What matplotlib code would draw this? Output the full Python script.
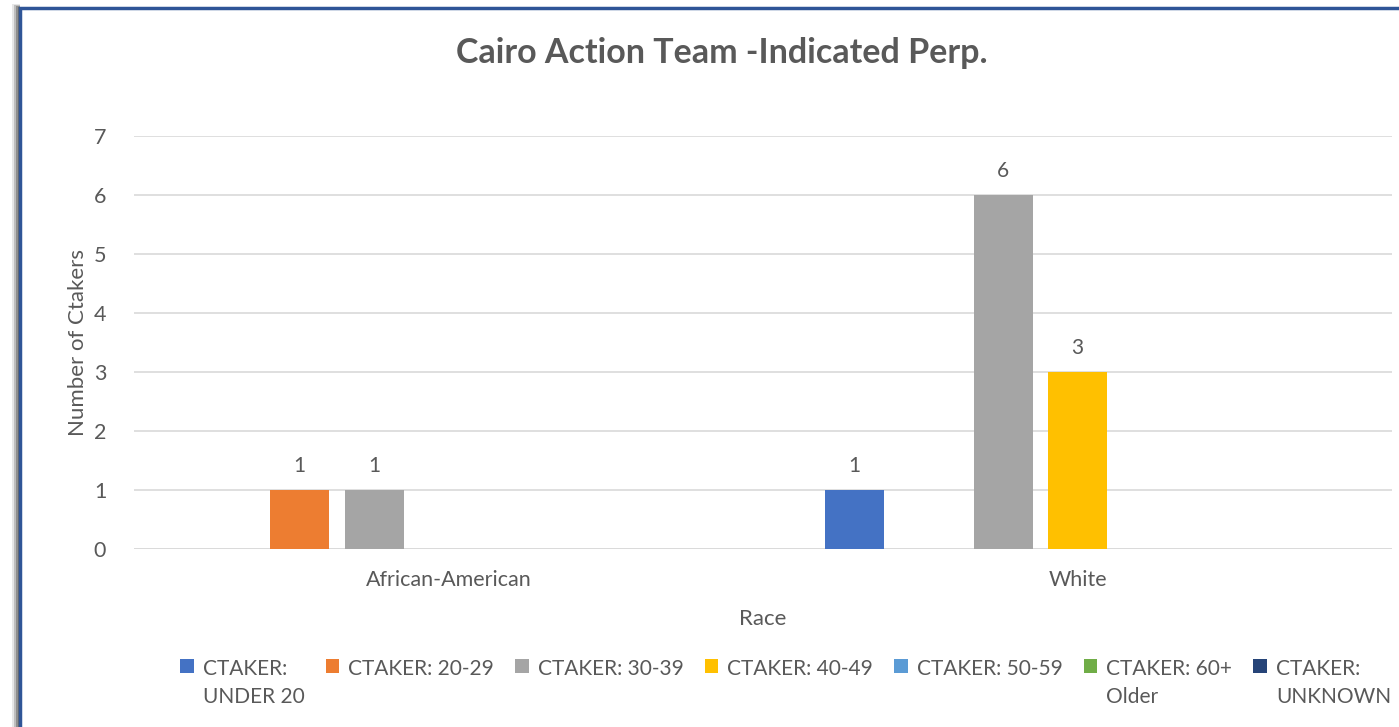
import numpy as np
import matplotlib.pyplot as plt
from matplotlib.patches import Rectangle

# data
races = ["African-American", "White"]
groups = ["CTAKER:\nUNDER 20", "CTAKER: 20-29", "CTAKER: 30-39", "CTAKER: 40-49",
          "CTAKER: 50-59", "CTAKER: 60+\nOlder", "CTAKER:\nUNKNOWN"]
counts = {
    "CTAKER:\nUNDER 20": [0, 1],
    "CTAKER: 20-29": [1, 0],
    "CTAKER: 30-39": [1, 6],
    "CTAKER: 40-49": [0, 3],
    "CTAKER: 50-59": [0, 0],
    "CTAKER: 60+\nOlder": [0, 0],
    "CTAKER:\nUNKNOWN": [0, 0],
}
colors = ["#4472C4", "#ED7D31", "#A5A5A5", "#FFC000", "#5B9BD5", "#70AD47", "#264478"]

plt.rcParams['font.family'] = ['Lato', 'DejaVu Sans']
txt = "#595959"

fig = plt.figure(figsize=(13.99, 7.27), dpi=100)
W, H = 1399, 727

# frame with a little shadow on the left/top
for k, a in enumerate([0.15, 0.3, 0.5, 0.7]):
    fig.patches.append(Rectangle(((12 + 2 * k) / W, 0), (8 - 2 * k) / W, 1 - (4 + k) / H,
                                 transform=fig.transFigure, facecolor="#606060",
                                 edgecolor="none", alpha=a, zorder=0))
fig.patches.append(Rectangle((20 / W, -0.01), 1.0, 1 - 8 / H + 0.01, transform=fig.transFigure,
                             facecolor="white", edgecolor="#2F5597", linewidth=2.5, zorder=1))

ax = fig.add_axes([134 / W, 178 / H, 1258 / W, 413 / H])
ax.set_zorder(2)
ax.patch.set_alpha(0)

x = np.arange(len(races)) + 0.5
slot = 0.1184
bw = 0.0938
for i, g in enumerate(groups):
    pos = x + (i - 3) * slot
    bars = ax.bar(pos, counts[g], width=bw, color=colors[i], label=g, zorder=3)
    labels = [str(v) if v > 0 else "" for v in counts[g]]
    ax.bar_label(bars, labels=labels, padding=10, fontsize=15, color=txt)

ax.set_xlim(0, 2)
ax.set_ylim(0, 7)
ax.set_yticks(range(8))
ax.set_xticks(x)
ax.set_xticklabels(races)
ax.tick_params(axis="both", length=0, labelsize=15.5, labelcolor=txt)
ax.tick_params(axis="y", pad=20)
ax.tick_params(axis="x", pad=15)
ax.grid(axis="y", color="#D9D9D9", linewidth=1.2, zorder=0)
for s in ax.spines.values():
    s.set_visible(False)
ax.axhline(0, color="#D9D9D9", linewidth=1.2, zorder=1)

ax.set_xlabel("Race", fontsize=16, color=txt, labelpad=14)
ax.set_ylabel("Number of Ctakers", fontsize=16, color=txt, labelpad=4)
fig.text(722 / W, 1 - 53 / H, "Cairo Action Team -Indicated Perp.", ha="center", va="center",
         fontsize=24.5, fontweight="bold", color=txt)

leg = ax.legend(loc="upper center", bbox_to_anchor=(0.518, -0.222), ncol=7, frameon=False,
                fontsize=15, handlelength=0.65, handleheight=0.65, handletextpad=0.45,
                columnspacing=1.0, labelcolor=txt)
for t in leg.get_texts():
    t.set_linespacing(1.45)
# put the markers next to the first line of wrapped labels
for col in leg._legend_handle_box.get_children():
    for item in col.get_children():
        item.align = "top"
leg._legend_handle_box.align = "top"

fig.savefig("out.png", dpi=100)
